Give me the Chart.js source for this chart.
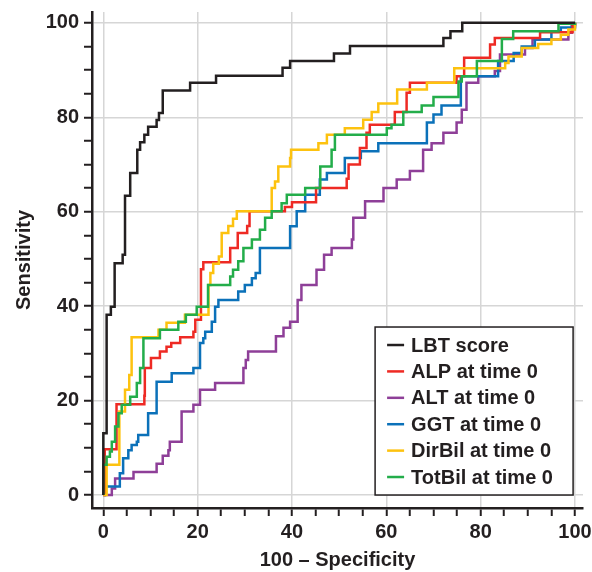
<!DOCTYPE html>
<html>
<head>
<meta charset="utf-8">
<script src="https://cdn.jsdelivr.net/npm/chart.js@4.4.0/dist/chart.umd.min.js"></script>
<style>
  html, body { margin: 0; padding: 0; background: #fff; }
  #wrap { width: 592px; height: 572px; }
</style>
</head>
<body>
<div id="wrap"><canvas id="rocChart" width="592" height="572"></canvas></div>
<script>
// ROC curves: x = 100 - specificity, y = sensitivity.
// each point is where a step rises (horizontal first, then up)
const lbtX = [0, 0, 0.7, 1.6, 2.4, 4.1, 4.6, 5.7, 7.2, 7.8, 8.7, 9.5, 11.3, 11.8, 12.6, 18.4, 23.9, 38.0, 39.6, 48.9, 52.3, 72.1, 73.6, 76.1, 100];
const lbtY = [0, 13.1, 38.2, 39.9, 49.1, 50.9, 63.4, 68.2, 73.1, 74.7, 76.3, 78.0, 79.4, 80.9, 85.7, 87.3, 88.8, 90.5, 91.9, 93.5, 95.1, 96.8, 98.2, 100, 100];

const alpX = [0, 0.3, 2.8, 8.7, 8.8, 10.1, 12.0, 13.4, 14.4, 16.3, 19.1, 19.5, 20.7, 21.2, 26.9, 28.5, 30.5, 31.0, 38.5, 40.0, 45.1, 51.6, 52.0, 54.4, 55.8, 56.5, 61.8, 64.3, 65.0, 74.9, 76.5, 82.0, 83.0, 92.6, 99.5, 100];
const alpY = [0, 9.7, 19.2, 21.0, 26.9, 29.0, 30.4, 31.4, 32.2, 33.4, 34.6, 37.1, 47.8, 49.3, 52.3, 55.5, 57.0, 60.1, 61.0, 62.0, 65.0, 67.0, 70.0, 73.5, 76.7, 78.4, 81.1, 85.2, 87.3, 88.7, 92.6, 95.4, 96.8, 98.0, 99.6, 100];

const altX = [0, 1.8, 2.5, 6.4, 11.3, 12.6, 13.8, 14.1, 16.6, 19.1, 20.5, 23.7, 29.7, 30.2, 30.7, 36.6, 38.2, 39.6, 41.2, 42.0, 45.2, 46.8, 48.4, 52.7, 53.0, 55.5, 59.4, 62.2, 65.0, 67.8, 69.6, 72.1, 74.9, 76.0, 77.0, 79.5, 83.0, 84.1, 89.4, 91.0, 98.6, 99.3, 100];
const altY = [0, 1.4, 3.5, 4.9, 6.6, 8.3, 9.5, 11.3, 17.7, 19.1, 22.3, 23.7, 26.9, 28.6, 30.4, 33.6, 35.4, 36.7, 41.3, 44.5, 47.7, 50.9, 52.3, 54.1, 58.7, 62.2, 65.0, 66.8, 68.6, 73.1, 74.5, 76.7, 78.9, 81.6, 87.3, 88.7, 89.8, 93.3, 94.7, 96.5, 97.9, 99.3, 100];

const ggtX = [0, 0.4, 3.5, 4.2, 5.3, 6.0, 7.1, 7.4, 9.5, 11.3, 14.5, 19.1, 20.5, 21.2, 21.6, 23.0, 23.7, 24.4, 28.6, 30.0, 31.5, 32.3, 33.2, 39.6, 41.0, 42.8, 45.9, 47.4, 51.2, 54.6, 58.3, 68.6, 70.0, 71.7, 75.8, 83.7, 87.0, 88.7, 91.5, 95.0, 97.0, 100];
const ggtY = [0, 1.8, 4.6, 7.8, 9.5, 10.6, 11.3, 12.7, 17.3, 24.0, 25.8, 26.9, 32.2, 33.2, 34.6, 36.7, 39.9, 41.3, 43.1, 44.5, 45.9, 47.0, 52.3, 56.9, 60.1, 63.6, 66.8, 68.2, 71.4, 72.8, 74.5, 78.9, 80.6, 82.5, 88.7, 91.9, 93.6, 95.0, 96.5, 98.2, 99.0, 100];

const dirBilX = [0, 0.7, 3.4, 4.6, 5.5, 6.0, 11.7, 13.4, 17.3, 22.3, 22.7, 23.3, 24.5, 25.1, 26.5, 27.5, 28.3, 35.7, 36.4, 37.1, 39.6, 39.8, 45.6, 47.4, 51.2, 55.1, 56.9, 58.3, 62.3, 68.6, 74.4, 85.2, 85.9, 88.7, 92.2, 95.0, 97.0, 98.6, 100];
const dirBilY = [0, 6.4, 17.7, 22.3, 25.4, 33.4, 35.0, 36.5, 38.2, 44.5, 47.0, 49.0, 50.5, 55.5, 57.0, 58.5, 60.1, 65.0, 66.4, 69.6, 71.4, 73.1, 74.5, 76.3, 77.7, 79.5, 81.1, 82.9, 85.9, 87.3, 90.4, 91.5, 92.9, 94.7, 95.5, 96.5, 97.5, 98.6, 100];

const totBilX = [0, 0, 0.7, 1.4, 1.8, 2.5, 3.2, 3.9, 5.7, 7.1, 7.8, 8.5, 12.0, 15.9, 17.5, 19.8, 22.2, 26.9, 27.5, 28.6, 29.7, 31.5, 33.2, 34.3, 35.7, 37.8, 38.9, 42.8, 46.0, 48.4, 49.1, 60.1, 61.1, 63.6, 67.5, 70.0, 75.3, 76.0, 79.2, 84.5, 86.9, 96.5, 100];
const totBilY = [0, 6.4, 8.1, 9.2, 11.3, 14.5, 17.3, 19.1, 20.8, 23.7, 26.9, 33.2, 35.0, 36.7, 38.2, 39.9, 44.5, 46.3, 47.7, 49.5, 52.3, 54.1, 56.2, 58.7, 60.1, 61.8, 63.6, 65.0, 69.6, 73.1, 76.3, 77.7, 78.4, 81.1, 82.5, 84.3, 87.6, 88.7, 91.9, 96.6, 98.2, 99.8, 100];

const seriesLabels = ['LBT score', 'ALP at time 0', 'ALT at time 0', 'GGT at time 0', 'DirBil at time 0', 'TotBil at time 0'];
const seriesColors = ['#231f20', '#ee2a24', '#8e3f98', '#0b71b9', '#fdc20f', '#23ad4a'];

const axisTicks = [0, 5, 10, 15, 20, 25, 30, 35, 40, 45, 50, 55, 60, 65, 70, 75, 80, 85, 90, 95, 100];
const labelledTicks = [0, 20, 40, 60, 80, 100];

const fontFamily = "'Liberation Sans', Arial, Helvetica, sans-serif";
const ink = '#231f20';

function toPoints(xs, ys) {
    return xs.map((x, i) => ({ x: x, y: ys[i] }));
}

const allX = [lbtX, alpX, altX, ggtX, dirBilX, totBilX];
const allY = [lbtY, alpY, altY, ggtY, dirBilY, totBilY];
const drawOrder = [0, 3, 5, 4, 2, 1]; // lower = drawn on top

// legend box in the lower right corner of the plot
const boxLegend = {
    id: 'boxLegend',
    afterDraw(chart) {
        const ctx = chart.ctx;
        const right = chart.scales.x.getPixelForValue(99.6);
        const bottom = chart.scales.y.getPixelForValue(0);
        const w = 198, h = 168;
        const left = right - w, top = bottom - h;
        ctx.save();
        ctx.fillStyle = '#fff';
        ctx.fillRect(left, top, w, h);
        ctx.strokeStyle = ink;
        ctx.lineWidth = 1.5;
        ctx.strokeRect(left, top, w, h);
        ctx.font = 'bold 20px ' + fontFamily;
        ctx.textBaseline = 'middle';
        ctx.textAlign = 'left';
        chart.data.datasets.forEach((ds, i) => {
            const cy = top + 18 + i * 26.4;
            ctx.strokeStyle = ds.borderColor;
            ctx.lineWidth = 2.5;
            ctx.beginPath();
            ctx.moveTo(left + 12, cy);
            ctx.lineTo(left + 29, cy);
            ctx.stroke();
            ctx.fillStyle = ink;
            ctx.fillText(ds.label, left + 36, cy + 1);
        });
        ctx.restore();
    }
};

function axisOptions(min, max, title, isX) {
    return {
        type: 'linear',
        min: min,
        max: max,
        afterBuildTicks: scale => {
            scale.ticks = axisTicks.map(v => ({ value: v }));
        },
        afterFit: scale => {
            if (isX) scale.height = 64; else scale.width = 92;
            scale.paddingLeft = 0;
            scale.paddingRight = 0;
            scale.paddingTop = 0;
            scale.paddingBottom = 0;
        },
        border: { color: ink, width: 2.5 },
        grid: {
            color: c => labelledTicks.includes(c.tick && c.tick.value) ? '#d6d6d6' : 'rgba(0,0,0,0)',
            lineWidth: 1.5,
            tickColor: ink,
            tickWidth: 2,
            tickLength: 8
        },
        ticks: {
            autoSkip: false,
            maxRotation: 0,
            padding: isX ? 4 : 5,
            color: ink,
            font: { family: fontFamily, size: 20, weight: 'bold' },
            callback: v => labelledTicks.includes(v) ? String(v) : ''
        },
        title: {
            display: true,
            text: title,
            color: ink,
            font: { family: fontFamily, size: 20, weight: 'bold' },
            padding: isX ? { top: 0, bottom: 0 } : { top: 12, bottom: 0 }
        }
    };
}

const ctx = document.getElementById('rocChart').getContext('2d');
new Chart(ctx, {
    type: 'line',
    data: {
        datasets: seriesLabels.map((label, i) => ({
            label: label,
            data: toPoints(allX[i], allY[i]),
            borderColor: seriesColors[i],
            backgroundColor: seriesColors[i],
            borderWidth: 2.5,
            pointRadius: 0,
            stepped: true,
            fill: false,
            order: drawOrder[i]
        }))
    },
    options: {
        responsive: false,
        animation: false,
        devicePixelRatio: 1,
        layout: { padding: { top: 12, right: 9, left: 0, bottom: 0 } },
        plugins: {
            legend: { display: false },
            tooltip: { enabled: false }
        },
        scales: {
            x: axisOptions(-2.4, 101.7, '100 \u2013 Specificity', true),
            y: axisOptions(-2.75, 102.3, 'Sensitivity', false)
        }
    },
    plugins: [boxLegend]
});
</script>
</body>
</html>
